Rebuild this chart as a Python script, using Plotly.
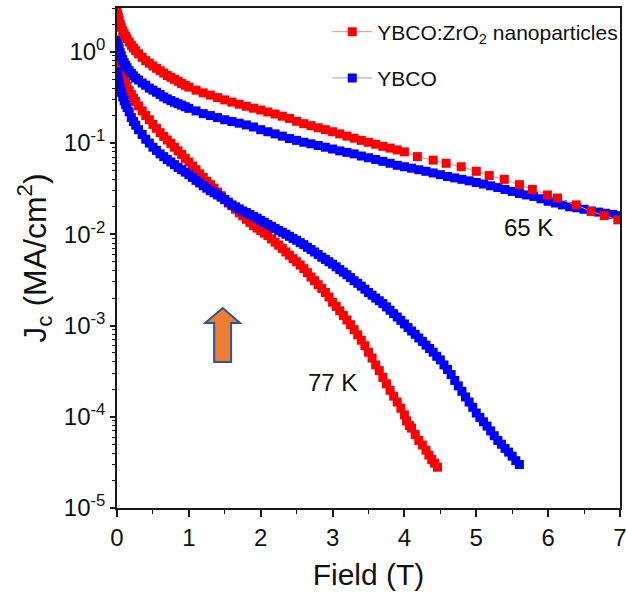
import plotly.graph_objects as go

# ---- Jc(B) data as (field [T], Jc [MA/cm^2]) pairs ----
zr_65 = [
    (0, 2.75), (0.01, 2.55), (0.02, 2.38), (0.03, 2.22), (0.045, 2.02), (0.06, 1.86),
    (0.08, 1.70), (0.1, 1.58), (0.12, 1.48), (0.14, 1.39), (0.17, 1.28), (0.2, 1.18),
    (0.23, 1.10), (0.26, 1.03), (0.3, 0.95), (0.35, 0.87), (0.4, 0.80), (0.45, 0.75),
    (0.5, 0.70), (0.55, 0.66), (0.6, 0.62), (0.65, 0.585), (0.7, 0.55), (0.75, 0.525),
    (0.8, 0.50), (0.85, 0.475), (0.9, 0.45), (0.95, 0.43), (1.0, 0.41), (1.1, 0.38),
    (1.2, 0.355), (1.3, 0.335), (1.4, 0.315), (1.5, 0.297), (1.6, 0.281), (1.7, 0.266),
    (1.8, 0.253), (1.9, 0.241), (2.0, 0.230), (2.1, 0.219), (2.2, 0.208), (2.3, 0.197),
    (2.4, 0.186), (2.5, 0.173), (2.6, 0.163), (2.7, 0.155), (2.8, 0.147), (2.9, 0.140),
    (3.0, 0.133), (3.1, 0.126), (3.2, 0.119), (3.3, 0.113), (3.4, 0.107), (3.5, 0.102),
    (3.6, 0.097), (3.7, 0.092), (3.8, 0.088), (3.9, 0.084), (4.0, 0.080), (4.18, 0.071),
    (4.4, 0.065), (4.58, 0.060), (4.79, 0.055), (5.0, 0.049), (5.18, 0.044), (5.39, 0.040),
    (5.6, 0.035), (5.78, 0.031), (5.99, 0.027), (6.13, 0.025), (6.39, 0.021), (6.6, 0.0178),
    (6.78, 0.016), (6.97, 0.0144),
]

ybco_65 = [
    (0, 1.35), (0.01, 1.25), (0.02, 1.16), (0.03, 1.08), (0.045, 0.98), (0.06, 0.90),
    (0.08, 0.82), (0.1, 0.76), (0.12, 0.71), (0.14, 0.67), (0.17, 0.62), (0.2, 0.58),
    (0.23, 0.545), (0.26, 0.515), (0.3, 0.49), (0.35, 0.455), (0.4, 0.43), (0.45, 0.40),
    (0.5, 0.38), (0.55, 0.36), (0.6, 0.34), (0.65, 0.32), (0.7, 0.305), (0.75, 0.292),
    (0.8, 0.28), (0.85, 0.27), (0.9, 0.26), (0.95, 0.25), (1.0, 0.24), (1.1, 0.225),
    (1.2, 0.21), (1.3, 0.20), (1.4, 0.19), (1.5, 0.18), (1.6, 0.172), (1.7, 0.165),
    (1.8, 0.158), (1.9, 0.150), (2.0, 0.140), (2.1, 0.133), (2.2, 0.126), (2.3, 0.119),
    (2.4, 0.112), (2.5, 0.107), (2.6, 0.102), (2.7, 0.098), (2.8, 0.094), (2.9, 0.090),
    (3.0, 0.086), (3.1, 0.082), (3.2, 0.079), (3.3, 0.076), (3.4, 0.072), (3.5, 0.069),
    (3.6, 0.066), (3.7, 0.063), (3.8, 0.060), (3.9, 0.057), (4.0, 0.055), (4.1, 0.053),
    (4.2, 0.051), (4.3, 0.049), (4.4, 0.047), (4.5, 0.045), (4.6, 0.043), (4.7, 0.0415),
    (4.8, 0.040), (4.9, 0.0385), (5.0, 0.037), (5.1, 0.0355), (5.2, 0.034), (5.3, 0.0325),
    (5.4, 0.031), (5.5, 0.0295), (5.6, 0.028), (5.7, 0.027), (5.8, 0.026), (5.9, 0.0245),
    (6.0, 0.023), (6.1, 0.022), (6.2, 0.021), (6.3, 0.020), (6.4, 0.0195), (6.5, 0.0188),
    (6.6, 0.018), (6.7, 0.0175), (6.8, 0.017), (6.9, 0.0165), (7.0, 0.016),
]

zr_77 = [
    (0, 0.80), (0.01, 0.75), (0.02, 0.70), (0.03, 0.66), (0.045, 0.61), (0.06, 0.57),
    (0.08, 0.52), (0.1, 0.48), (0.12, 0.45), (0.14, 0.42), (0.17, 0.375), (0.2, 0.34),
    (0.23, 0.31), (0.26, 0.285), (0.3, 0.255), (0.35, 0.225), (0.4, 0.20), (0.45, 0.18),
    (0.5, 0.16), (0.55, 0.145), (0.6, 0.13), (0.65, 0.118), (0.7, 0.108), (0.75, 0.099),
    (0.8, 0.090), (0.85, 0.082), (0.9, 0.075), (0.95, 0.068), (1.0, 0.062), (1.05, 0.056),
    (1.1, 0.051), (1.15, 0.046), (1.2, 0.042), (1.25, 0.038), (1.3, 0.035), (1.35, 0.032),
    (1.4, 0.029), (1.45, 0.0265), (1.5, 0.024), (1.55, 0.022), (1.6, 0.0205), (1.65, 0.0188),
    (1.7, 0.0172), (1.75, 0.0159), (1.8, 0.0146), (1.85, 0.0135), (1.9, 0.0125),
    (1.95, 0.0117), (2.0, 0.0110), (2.05, 0.0103), (2.1, 0.0097), (2.15, 0.0089),
    (2.2, 0.0082), (2.25, 0.0076), (2.3, 0.0070), (2.35, 0.0064), (2.4, 0.0059),
    (2.45, 0.0054), (2.5, 0.0050), (2.55, 0.0046), (2.6, 0.0042), (2.65, 0.0038),
    (2.7, 0.0034), (2.75, 0.0031), (2.8, 0.0028), (2.85, 0.00255), (2.9, 0.0023),
    (2.95, 0.00205), (3.0, 0.0018), (3.05, 0.00162), (3.1, 0.00145), (3.15, 0.00129),
    (3.2, 0.00115), (3.25, 0.00102), (3.3, 0.00090), (3.35, 0.00079), (3.4, 0.00069),
    (3.45, 0.00060), (3.5, 0.00051), (3.55, 0.00044), (3.6, 0.00037), (3.65, 0.00032),
    (3.7, 0.00027), (3.75, 0.00023), (3.8, 0.000195), (3.85, 0.000168), (3.9, 0.000145),
    (3.95, 0.000124), (4.0, 0.000105), (4.03, 0.00009), (4.07, 0.00008), (4.1, 0.000075),
    (4.15, 0.000064), (4.2, 0.000055), (4.25, 0.000049), (4.3, 0.000043), (4.34, 0.000038),
    (4.38, 0.000034), (4.42, 0.000031), (4.46, 0.000028),
]

ybco_77 = [
    (0, 0.60), (0.01, 0.54), (0.02, 0.49), (0.03, 0.45), (0.045, 0.40), (0.06, 0.36),
    (0.08, 0.32), (0.1, 0.29), (0.12, 0.265), (0.14, 0.245), (0.17, 0.22), (0.2, 0.19),
    (0.23, 0.172), (0.26, 0.157), (0.3, 0.14), (0.35, 0.124), (0.4, 0.11), (0.45, 0.10),
    (0.5, 0.090), (0.55, 0.083), (0.6, 0.076), (0.65, 0.071), (0.7, 0.066), (0.75, 0.062),
    (0.8, 0.058), (0.85, 0.054), (0.9, 0.051), (0.95, 0.048), (1.0, 0.045), (1.05, 0.042),
    (1.1, 0.039), (1.15, 0.0365), (1.2, 0.034), (1.25, 0.032), (1.3, 0.030), (1.35, 0.0285),
    (1.4, 0.027), (1.45, 0.0255), (1.5, 0.024), (1.55, 0.0225), (1.6, 0.021), (1.65, 0.020),
    (1.7, 0.019), (1.75, 0.018), (1.8, 0.0173), (1.85, 0.0165), (1.9, 0.0157), (1.95, 0.0150),
    (2.0, 0.0142), (2.05, 0.0135), (2.1, 0.0128), (2.15, 0.0122), (2.2, 0.0116),
    (2.25, 0.0110), (2.3, 0.0105), (2.35, 0.0100), (2.4, 0.0095), (2.45, 0.0090),
    (2.5, 0.0086), (2.55, 0.0081), (2.6, 0.0077), (2.65, 0.0072), (2.7, 0.0068),
    (2.75, 0.0064), (2.8, 0.0060), (2.85, 0.0056), (2.9, 0.0053), (2.95, 0.0050),
    (3.0, 0.0047), (3.05, 0.0044), (3.1, 0.0041), (3.15, 0.00385), (3.2, 0.0036),
    (3.25, 0.00335), (3.3, 0.0031), (3.35, 0.0029), (3.4, 0.0027), (3.45, 0.0025),
    (3.5, 0.0023), (3.55, 0.00215), (3.6, 0.0020), (3.65, 0.00187), (3.7, 0.00174),
    (3.75, 0.00160), (3.8, 0.00147), (3.85, 0.00135), (3.9, 0.00124), (3.95, 0.00114),
    (4.0, 0.00104), (4.05, 0.00095), (4.1, 0.00087), (4.15, 0.00080), (4.2, 0.00073),
    (4.25, 0.00067), (4.3, 0.00061), (4.35, 0.00056), (4.4, 0.00051), (4.45, 0.00046),
    (4.5, 0.00042), (4.55, 0.00037), (4.6, 0.00033), (4.65, 0.00029), (4.7, 0.00025),
    (4.75, 0.000218), (4.8, 0.00019), (4.85, 0.000165), (4.9, 0.000145), (4.95, 0.000127),
    (5.0, 0.000110), (5.05, 0.000098), (5.1, 0.000088), (5.15, 0.000079), (5.2, 0.000070),
    (5.25, 0.000062), (5.3, 0.000055), (5.35, 0.000050), (5.4, 0.000045), (5.45, 0.000041),
    (5.5, 0.000037), (5.55, 0.000033), (5.6, 0.000030),
]

# ---- axis ticks ----
x_ticks = [0, 1, 2, 3, 4, 5, 6, 7]
y_tick_exps = [-5, -4, -3, -2, -1, 0]
y_tick_vals = [10.0 ** e for e in y_tick_exps]
y_tick_text = ["10<sup>%d</sup>" % e for e in y_tick_exps]
y_minor_vals = [m * 10.0 ** e for e in y_tick_exps for m in range(2, 10)]

RED = "#ff0000"
BLUE = "#0000ff"
RED_LINE = "#f08c8c"
BLUE_LINE = "#9a9ad8"
FONT = "Arial, Liberation Sans, sans-serif"
ZR_NAME = "YBCO:ZrO<sub>2</sub> nanoparticles"

fig = go.Figure()


def add_curve(pairs, color, line_color, name, show, rank):
    fig.add_trace(go.Scatter(
        x=[p[0] for p in pairs], y=[p[1] for p in pairs],
        mode="lines+markers", name=name,
        legendgroup="g%d" % rank, showlegend=show, legendrank=rank,
        line=dict(color=line_color, width=1),
        marker=dict(symbol="square", size=9, color=color, line=dict(width=0)),
    ))


add_curve(zr_77, RED, RED_LINE, ZR_NAME, False, 3)
add_curve(ybco_77, BLUE, BLUE_LINE, "YBCO", False, 4)
add_curve(ybco_65, BLUE, BLUE_LINE, "YBCO", True, 2)
add_curve(zr_65, RED, RED_LINE, ZR_NAME, True, 1)

# temperature labels
fig.add_annotation(x=5.73, y=-1.93, text="65 K", showarrow=False,
                   font=dict(family=FONT, size=24, color="#111"))
fig.add_annotation(x=3.0, y=-3.62, text="77 K", showarrow=False,
                   font=dict(family=FONT, size=24, color="#111"))

# block arrow marking the crossover field
ax_c, head_hw, shaft_hw = 1.47, 0.243, 0.118
y_tip, y_head, y_bot = 0.40, 0.37, 0.292
arrow_path = (
    f"M {ax_c} {y_tip} L {ax_c + head_hw} {y_head} L {ax_c + shaft_hw} {y_head} "
    f"L {ax_c + shaft_hw} {y_bot} L {ax_c - shaft_hw} {y_bot} L {ax_c - shaft_hw} {y_head} "
    f"L {ax_c - head_hw} {y_head} Z"
)
fig.add_shape(type="path", path=arrow_path, xref="x", yref="y domain",
              fillcolor="#ed7d31", line=dict(color="#2f5597", width=2))

axis_common = dict(
    showline=True, linecolor="#1a1a1a", linewidth=1.5, mirror=True,
    ticks="outside", tickcolor="#1a1a1a", showgrid=False, zeroline=False,
    tickfont=dict(family=FONT, size=24, color="#111"), ticklabeloverflow="allow",
)

fig.update_xaxes(
    range=[0, 7], tickvals=x_ticks, ticklen=7, tickwidth=1.5,
    minor=dict(tickvals=[v + 0.5 for v in x_ticks[:-1]], ticks="outside", ticklen=4,
               tickcolor="#1a1a1a", tickwidth=1.2),
    title=dict(text="Field (T)", font=dict(family=FONT, size=30, color="#111"), standoff=14),
    **axis_common,
)
fig.update_yaxes(
    type="log", range=[-5, 0.48], tickvals=y_tick_vals, ticktext=y_tick_text,
    ticklen=5, tickwidth=1.5,
    minor=dict(tickvals=y_minor_vals, ticks="outside", ticklen=3,
               tickcolor="#1a1a1a", tickwidth=1),
    title=dict(text="J<sub>c</sub> (MA/cm<sup>2</sup>)",
               font=dict(family=FONT, size=32, color="#111"), standoff=8),
    **axis_common,
)

fig.update_layout(
    width=626, height=609,
    margin=dict(l=117, r=6, t=8, b=101, autoexpand=False),
    paper_bgcolor="white", plot_bgcolor="white",
    font=dict(family=FONT, color="#111"),
    legend=dict(x=0.418, y=0.993, xanchor="left", yanchor="top",
                bgcolor="rgba(0,0,0,0)", font=dict(family=FONT, size=21, color="#111"),
                traceorder="grouped", tracegroupgap=16, itemwidth=40),
)

fig.write_html("out.html")
